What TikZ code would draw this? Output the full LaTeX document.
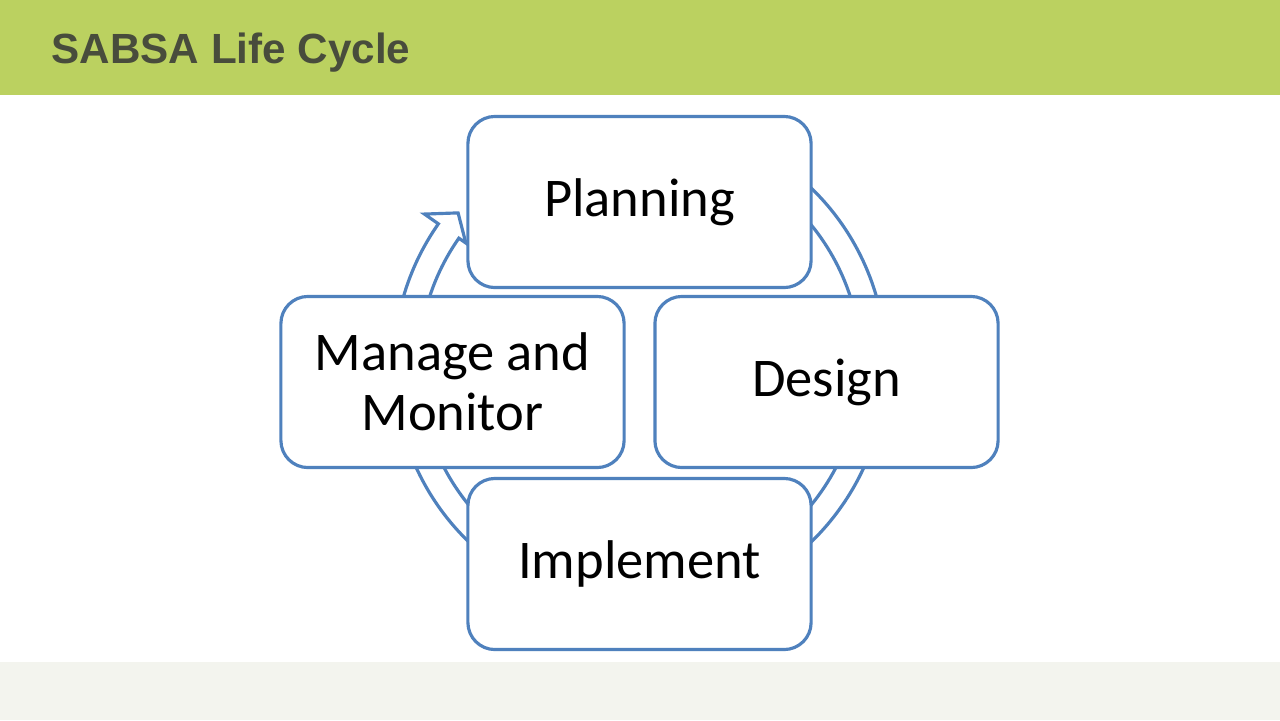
\documentclass[tikz,border=0pt]{standalone}
\usepackage{fontspec}
\usetikzlibrary{positioning}
\newfontfamily\stagefont{Carlito}
\newfontfamily\headfont{Liberation Sans}
\definecolor{sabgreen}{RGB}{187,209,96}
\definecolor{sabgray}{RGB}{72,76,60}
\definecolor{sabblue}{RGB}{79,129,189}
\definecolor{sabfoot}{RGB}{243,244,238}

\begin{document}
\begin{tikzpicture}[x=0.01cm,y=0.01cm,
    stage/.style={draw=sabblue,line width=0.9pt,fill=white,rounded corners=0.27cm,
      minimum width=3.43cm,minimum height=1.71cm,align=center,inner sep=0pt,
      font={\stagefont\fontsize{15.5}{17.2}\selectfont}},
    ring/.style={draw=sabblue,line width=0.9pt,fill=white,line join=miter}]
      \useasboundingbox (0,0) rectangle (1280,720);
      % Slide background
      \fill[white]    (0,0) rectangle (1280,720);
      \fill[sabgreen] (0,625) rectangle (1280,720);
      \fill[sabfoot]  (0,0) rectangle (1280,58);
      \node[anchor=base west,inner sep=0pt,text=sabgray,font={\headfont\bfseries\fontsize{12}{14}\selectfont}]
        (title) at (51,657) {SABSA Life Cycle};
      % Cycle arrow
      \coordinate (ctr) at (640,355);
      \draw[ring] ([shift={(ctr)}]55:2.46cm) arc[start angle=55,end angle=-215,radius=2.46cm]
        -- ([shift={(ctr)}]145:2.63cm) -- ([shift={(ctr)}]140.1:2.37cm)
        -- ([shift={(ctr)}]145:2.125cm) -- ([shift={(ctr)}]145:2.21cm)
        arc[start angle=-215,end angle=55,radius=2.21cm] -- cycle;
      % Stages
      \node[stage] (plan)   at (639.5,518) {Planning};
      \node[stage] (design) at (826.5,338) {Design};
      \node[stage] (impl)   at (639.5,156) {Implement};
      \node[stage] (manage) at (452.5,338) {Manage and\\Monitor};
    \end{tikzpicture}
\end{document}
